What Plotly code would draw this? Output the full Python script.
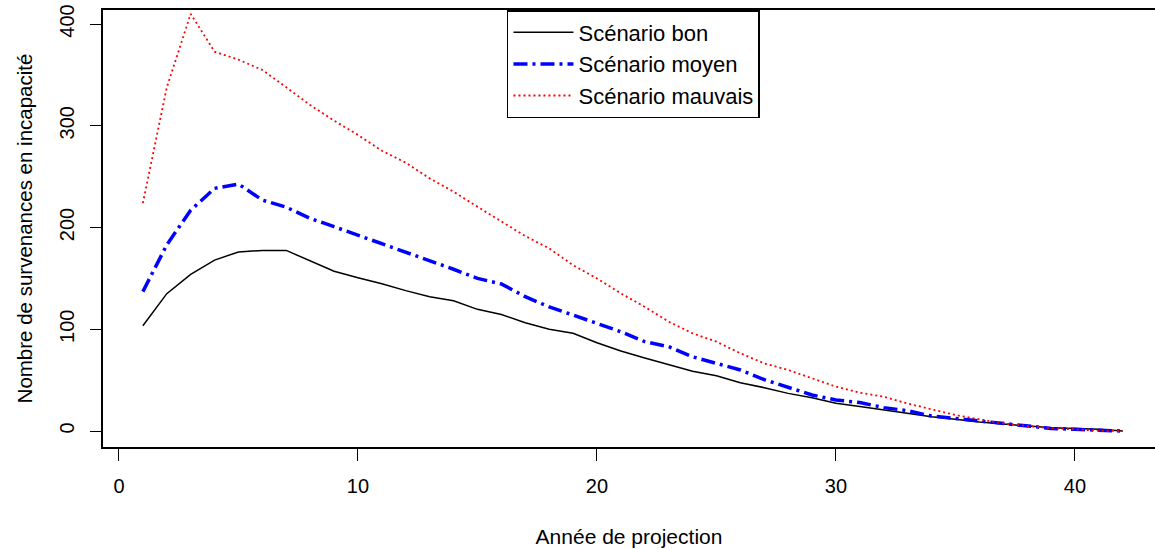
import plotly.graph_objects as go

annees = list(range(1, 43))

scenario_bon = [103.5, 135, 154, 168, 176, 177.5, 177.5, 167, 157, 150.7,
                144.8, 138, 132, 128, 119.6, 114.5, 106.5, 100, 96, 86.8,
                78.6, 71.7, 64.9, 58.7, 54.4, 47.5, 42.6, 37, 32.8, 27.2,
                24, 20.6, 17, 14, 11.5, 8.8, 6.9, 4.9, 3.3, 2.6, 1.7, 0]

scenario_moyen = [137, 183, 217, 238.5, 242.7, 227, 220, 209, 200.8, 192.6,
                  183.5, 176, 167.4, 159, 150, 144.5, 132, 122, 114, 105.8,
                  97.6, 87.8, 82.9, 73, 66.5, 60, 50.5, 43, 35.4, 30.5,
                  28, 23, 20, 14.7, 12.4, 10, 7, 5, 2.6, 1.7, 1, 0]

scenario_mauvais = [224, 337.8, 410, 372.8, 365, 354.8, 337.8, 320.4, 305, 291,
                    275.5, 263.7, 248.3, 235.2, 220.4, 205.7, 191.6, 179.5, 163, 150,
                    135.3, 122, 107.5, 96, 87.8, 76.4, 66.5, 60, 51.8, 43.6,
                    37.7, 33.7, 27, 21, 15.7, 11.5, 7.5, 5, 2.6, 1.7, 0.3, 0]

noms = ["Scénario bon", "Scénario moyen", "Scénario mauvais"]

x_ticks = [0, 10, 20, 30, 40]
y_ticks = [0, 100, 200, 300, 400]

FONT = "Liberation Sans, Arial, sans-serif"

fig = go.Figure()
fig.add_trace(go.Scatter(x=annees, y=scenario_bon, mode="lines", name=noms[0],
                         line=dict(color="black", width=1.5)))
fig.add_trace(go.Scatter(x=annees, y=scenario_moyen, mode="lines", name=noms[1],
                         line=dict(color="#0000FF", width=3.5, dash="14px,5px,3px,5px")))
fig.add_trace(go.Scatter(x=annees, y=scenario_mauvais, mode="lines", name=noms[2],
                         line=dict(color="#FF0000", width=1.8, dash="2px,3px")))

fig.update_layout(
    width=1155, height=549,
    margin=dict(l=103, r=0, t=10, b=102),
    paper_bgcolor="white", plot_bgcolor="white",
    font=dict(family=FONT, size=20, color="black"),
    showlegend=True,
    legend=dict(x=0.384, y=1, xanchor="left", yanchor="top",
                bgcolor="white", bordercolor="black", borderwidth=1.5,
                font=dict(size=22), tracegroupgap=0, itemwidth=60,
                traceorder="normal"),
    xaxis=dict(range=[-0.669, 43.35], tickvals=x_ticks, ticktext=[str(v) for v in x_ticks],
               showgrid=False, zeroline=False, showline=True, linecolor="black",
               linewidth=2, mirror=True, ticks="outside", ticklen=12,
               tickcolor="black", tickwidth=1, tickfont=dict(size=20),
               ticklabelstandoff=8, automargin=False,
               title=dict(text="Année de projection", font=dict(size=21), standoff=33)),
    yaxis=dict(range=[-15.7, 413.8], tickvals=y_ticks, ticktext=[str(v) for v in y_ticks],
               showgrid=False, zeroline=False, showline=True, linecolor="black",
               linewidth=2, mirror=False, ticks="outside", ticklen=11,
               tickcolor="black", tickwidth=1, tickangle=-90, tickfont=dict(size=20),
               ticklabelstandoff=8, ticklabeloverflow="allow", automargin=False,
               title=dict(text="Nombre de survenances en incapacité", font=dict(size=20.5),
                          standoff=18)),
)

# Remove the browser's default 8px body margin so the figure fills the window exactly.
fig.write_html("out.html", config={"displayModeBar": False},
               post_script="document.body.style.margin='0';")
